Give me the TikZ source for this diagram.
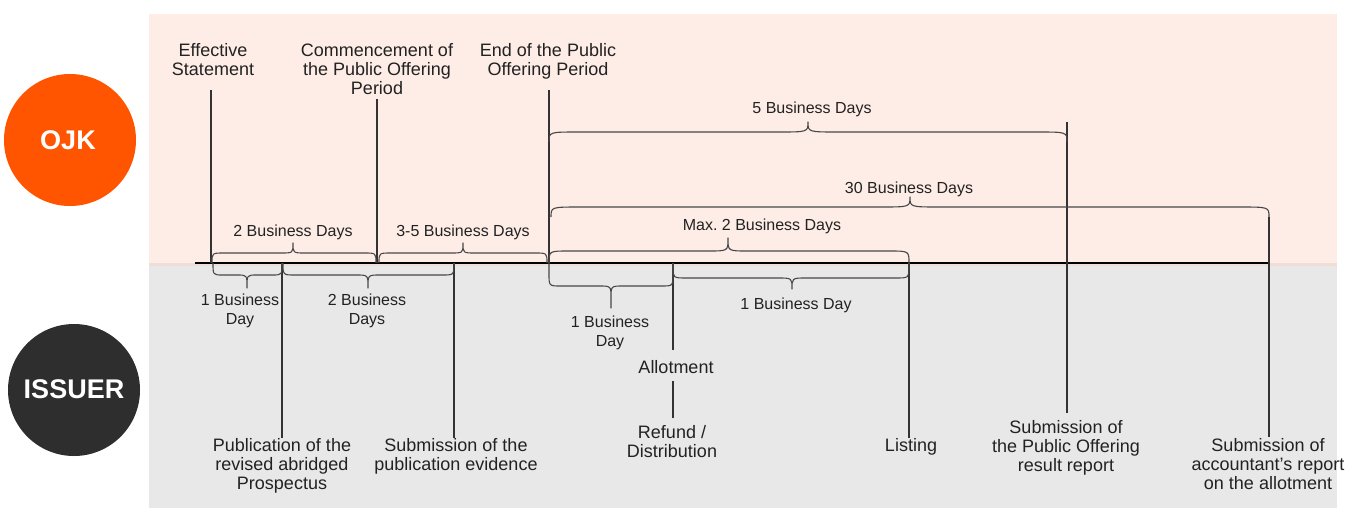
\documentclass[tikz,border=0pt]{standalone}
\usepackage{fontspec}
\setmainfont{Liberation Sans}
\definecolor{pinkbg}{HTML}{FEEDE6}
\definecolor{graybg}{HTML}{E8E8E8}
\definecolor{bandc}{HTML}{F0DDD6}
\definecolor{ojkc}{HTML}{FF5500}
\definecolor{issc}{HTML}{2E2E2E}
\definecolor{txt}{HTML}{222222}
\definecolor{linec}{HTML}{333333}
\newcommand{\mybrace}[8]{%
  \draw[brc] ({#1},{#4}) -- ({#1},{#5-(#8)}) .. controls ({#1},{#5}) .. ({#1+#7},{#5}) -- ({#3-#7},{#5})
    .. controls ({#3},{#5}) .. ({#3},{#5+(#8)}) -- ({#3},{#6}) -- ({#3},{#5+(#8)})
    .. controls ({#3},{#5}) .. ({#3+#7},{#5}) -- ({#2-#7},{#5}) .. controls ({#2},{#5}) .. ({#2},{#5-(#8)}) -- ({#2},{#4});}
\begin{document}
\begin{tikzpicture}[x=1pt,y=-1pt,
  brc/.style={draw=linec!90, line width=1.1pt, line join=round},
  tick/.style={draw=linec, line width=1.1pt},
  timeline/.style={draw=black, line width=2pt},
  evlabel/.style={align=center, text=txt, inner sep=0pt, font=\fontsize{18}{19}\selectfont, text height=13pt, text depth=4pt},
  durlabel/.style={align=center, text=txt, inner sep=0pt, font=\fontsize{16}{19}\selectfont, text height=11.5pt, text depth=3.5pt},
  actor/.style={circle, minimum size=132pt, inner sep=0pt, text=white, font=\fontsize{27}{30}\selectfont\bfseries}]
\useasboundingbox (0,0) rectangle (1364,509);
% backgrounds
\fill[pinkbg] (149,14) rectangle (1337,264);
\fill[graybg] (149,264) rectangle (1337,508);
\fill[bandc] (149,263) rectangle (1337,266);
% actors
\node[actor, fill=ojkc] (ojk) at (70,140) {};
\node[text=white, font=\fontsize{27}{30}\selectfont\bfseries] (ojkt) at (68,140) {OJK};
\node[actor, fill=issc] (iss) at (74,390) {};
\node[text=white, font=\fontsize{27}{30}\selectfont\bfseries] (isst) at (74,389) {ISSUER};
% timeline
\coordinate (tl0) at (195,263);
\coordinate (tl1) at (1269,263);
\draw[timeline] (tl0) -- (tl1);
% tick coordinates
\coordinate (effT) at (211,90);   \coordinate (effB) at (211,263);
\coordinate (comT) at (377,99);   \coordinate (comB) at (377,263);
\coordinate (endT) at (549,90);   \coordinate (endB) at (549,263);
\coordinate (resT) at (1067,122); \coordinate (resB) at (1067,413);
\coordinate (accT) at (1269,217); \coordinate (accB) at (1269,437);
\coordinate (pubT) at (282,263);  \coordinate (pubB) at (282,438);
\coordinate (subT) at (454,263);  \coordinate (subB) at (454,438);
\coordinate (allT) at (673,263);  \coordinate (allB) at (673,350);
\coordinate (refT) at (673,381);  \coordinate (refB) at (673,418);
\coordinate (lstT) at (909,263);  \coordinate (lstB) at (909,438);
\draw[tick] (effT) -- (effB);
\draw[tick] (comT) -- (comB);
\draw[tick] (endT) -- (endB);
\draw[tick] (resT) -- (resB);
\draw[tick] (accT) -- (accB);
\draw[tick] (pubT) -- (pubB);
\draw[tick] (subT) -- (subB);
\draw[tick] (allT) -- (allB);
\draw[tick] (refT) -- (refB);
\draw[tick] (lstT) -- (lstB);
% braces above
\mybrace{212}{376}{293}{263}{253}{243}{12}{-10}
\mybrace{379}{547}{463}{263}{253}{243}{12}{-10}
\mybrace{549}{1067}{808}{142}{132}{122}{30}{-10}
\mybrace{551}{1269}{910}{217}{207}{197}{30}{-10}
\mybrace{549}{909}{728}{263}{251}{238}{20}{-12}
% braces below
\mybrace{213}{282}{247}{263}{275}{288}{10}{12}
\mybrace{283}{454}{368}{263}{275}{288}{12}{12}
\mybrace{549}{673}{611}{263}{286}{308}{12}{12}
\mybrace{673}{909}{792}{263}{278}{289}{14}{11}
% top event labels
\node[evlabel] (eff) at (213,71) {Effective\\Statement};
\node[evlabel] (com) at (377,90) {Commencement of\\the Public Offering\\Period};
\node[evlabel] (endp) at (548,71) {End of the Public\\Offering Period};
% duration labels
\node[durlabel] (d1) at (293,232) {2 Business Days};
\node[durlabel] (d2) at (463,232) {3-5 Business Days};
\node[durlabel] (d3) at (812,109) {5 Business Days};
\node[durlabel] (d4) at (909,189) {30 Business Days};
\node[durlabel] (d5) at (762,226) {Max.\ 2 Business Days};
\node[durlabel] (d6) at (240,320.7) {1 Business\\Day};
\node[durlabel] (d7) at (367,320.7) {2 Business\\Days};
\node[durlabel] (d8) at (610,342.7) {1 Business\\Day};
\node[durlabel] (d9) at (796,305) {1 Business Day};
% bottom event labels
\node[evlabel] (allot) at (676,369) {Allotment};
\node[evlabel] (refund) at (672,453) {Refund /\\Distribution};
\node[evlabel] (listing) at (911,447) {Listing};
\node[evlabel] (pub) at (282,485) {Publication of the\\revised abridged\\Prospectus};
\node[evlabel] (subm) at (456,466) {Submission of the\\publication evidence};
\node[evlabel] (res) at (1066,467) {Submission of\\the Public Offering\\result report};
\node[evlabel] (acc) at (1268,485) {Submission of\\accountant’s report\\on the allotment};
\end{tikzpicture}
\end{document}
